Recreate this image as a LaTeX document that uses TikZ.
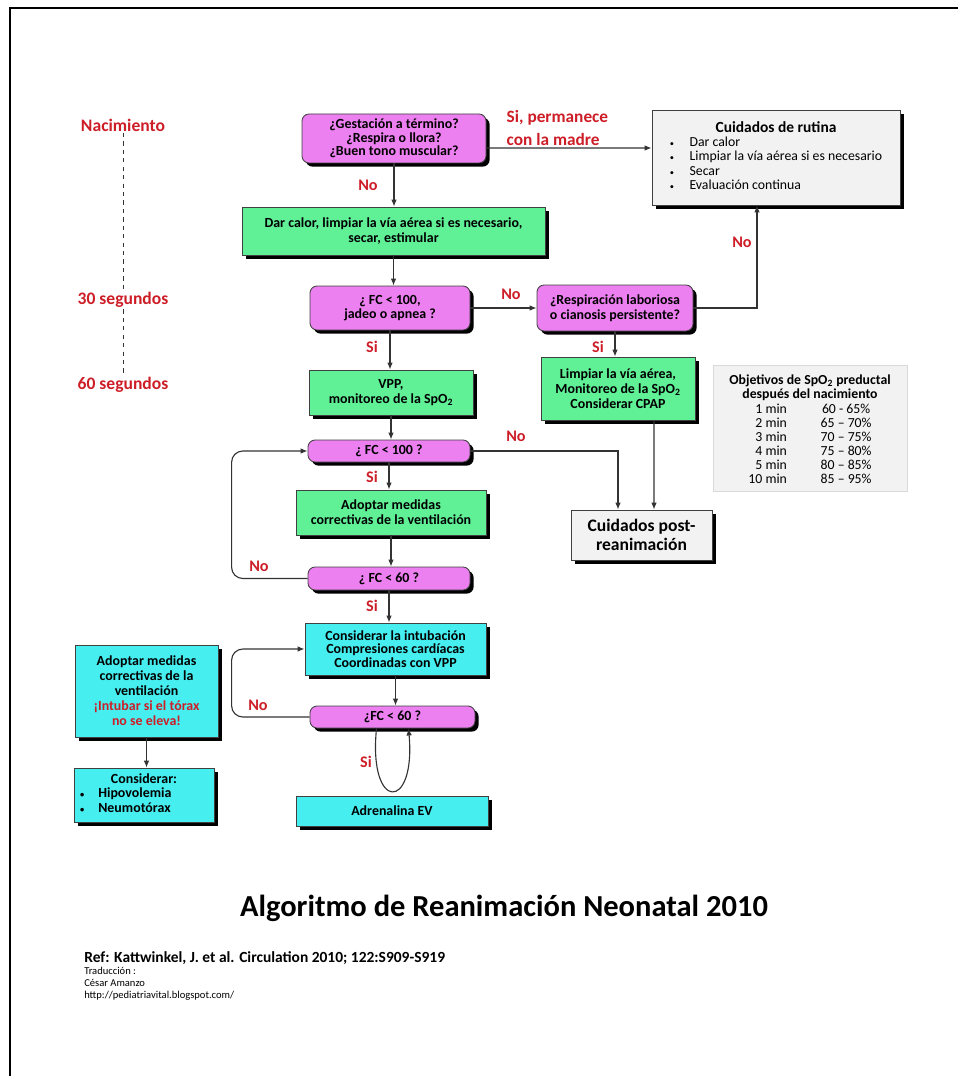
\documentclass[tikz,border=0pt]{standalone}
\usepackage{fontspec}
\setmainfont{Carlito}
\usetikzlibrary{positioning,calc,arrows.meta,shadows}
\definecolor{QPink}{RGB}{236,128,240}
\definecolor{ActGreen}{RGB}{96,240,150}
\definecolor{IntCyan}{RGB}{70,238,240}
\definecolor{CareGray}{RGB}{242,242,242}
\definecolor{LblRed}{RGB}{205,30,40}
\newcommand{\dotitem}{{\fontsize{6}{6}\selectfont\textbullet}}
\tikzset{
  sz/.style 2 args={minimum width=#1*0.025cm,minimum height=#2*0.025cm},
  box/.style={draw=black!75,line width=0.6pt,inner sep=0pt,align=center,
    font=\bfseries\fontsize{9.9}{10.5}\selectfont,
    drop shadow={shadow xshift=2.6pt,shadow yshift=-2.6pt,fill=black,opacity=1}},
  ask/.style={box,fill=QPink,rounded corners=5pt},
  act/.style={box,fill=ActGreen},
  adv/.style={box,fill=IntCyan},
  care/.style={box,fill=CareGray},
  flow/.style={draw=black!80,line width=0.8pt,-{Latex[length=5pt,width=4pt]}},
  lbl/.style={text=LblRed,font=\bfseries\fontsize{11.5}{12}\selectfont,inner sep=1pt},
  tick/.style={draw=black!80,dashed,line width=0.7pt},
}

\begin{document}
\begin{tikzpicture}[x=0.025cm,y=-0.025cm]
\useasboundingbox (0,0) rectangle (958,1076);
\draw[line width=1.5pt] (10,1076) -- (10,8) -- (958,8);

\node[lbl,font=\bfseries\fontsize{12.5}{13}\selectfont] (birth) at (123,125) {Nacimiento};
\node[lbl,font=\bfseries\fontsize{12.5}{13}\selectfont] (s30) at (123,300) {30 segundos};
\node[lbl,font=\bfseries\fontsize{12.5}{13}\selectfont] (s60) at (123,385) {60 segundos};
\draw[tick] (birth) -- (s30);
\draw[tick] (s30) -- (s60);

\node[ask,sz={184}{49},font=\bfseries\fontsize{9.9}{9.5}\selectfont] (q1) at (394,138.5) {¿Gestación a término?\\¿Respira o llora?\\¿Buen tono muscular?};
\node[act,sz={303}{48}] (g1) at (393.5,231) {Dar calor, limpiar la vía aérea si es necesario,\\secar, estimular};
\node[ask,sz={160}{44}] (q2) at (390,308) {¿ FC < 100,\\jadeo o apnea ?};
\node[ask,sz={156}{46}] (q3) at (615,308) {¿Respiración laboriosa\\o cianosis persistente?};
\node[care,sz={248}{95},font=\fontsize{9.8}{10.2}\selectfont] (rut) at (776,157.5) {%
  \begin{tabular}{@{}l@{\hspace{11pt}}l@{}}
  \multicolumn{2}{c}{\bfseries\fontsize{11}{12}\selectfont Cuidados de rutina}\\
  \dotitem & Dar calor\\
  \dotitem & Limpiar la vía aérea si es necesario\\
  \dotitem & Secar\\
  \dotitem & Evaluación continua
  \end{tabular}};
\node[act,sz={164}{45}] (vpp) at (391,392.5) {VPP,\\monitoreo de la SpO\textsubscript{2}};
\node[act,sz={154}{63}] (lim) at (618,388.5) {Limpiar la vía aérea,\\Monitoreo de la SpO\textsubscript{2}\\Considerar CPAP};
\node[draw=black!15,fill=CareGray,sz={194}{126},align=center,inner sep=0pt,
  font=\fontsize{9.8}{10}\selectfont] (obj) at (810,428) {%
  \mbox{}\\[1.4pt]
  {\bfseries Objetivos de SpO\textsubscript{2} preductal}\\
  {\bfseries después del nacimiento}\\[1pt]
  \begin{tabular}{@{}r@{\hspace{24pt}}c@{}}
  1 min & 60 - 65\%\\
  2 min & 65 – 70\%\\
  3 min & 70 – 75\%\\
  4 min & 75 – 80\%\\
  5 min & 80 – 85\%\\
  10 min & 85 – 95\%
  \end{tabular}};
\node[ask,sz={162}{22}] (q4) at (389,451) {¿ FC < 100 ?};
\node[act,sz={190}{45}] (ado) at (391,512.5) {Adoptar medidas\\correctivas de la ventilación};
\node[ask,sz={162}{23}] (q5) at (389,578.5) {¿ FC < 60 ?};
\node[care,sz={141}{50},font=\bfseries\fontsize{12.5}{13.5}\selectfont] (post) at (641.5,535) {Cuidados post-\\reanimación};
\node[adv,sz={181}{52},font=\bfseries\fontsize{9.9}{9.8}\selectfont] (int) at (395.5,649) {Considerar la intubación\\Compresiones cardíacas\\Coordinadas con VPP};
\node[ask,sz={165}{22}] (q6) at (392.5,717) {¿FC < 60 ?};
\node[adv,sz={192}{30}] (adr) at (392,811) {Adrenalina EV};
\node[adv,sz={143}{92},font=\bfseries\fontsize{9.9}{10.7}\selectfont] (la) at (146.5,691) {Adoptar medidas\\correctivas de la\\ventilación\\\textcolor{LblRed}{¡Intubar si el tórax}\\\textcolor{LblRed}{no se eleva!}};
\node[adv,sz={140}{54}] (lb) at (144,795) {%
  \begin{tabular}{@{}l@{\hspace{10pt}}l@{\hspace{26pt}}}
  \multicolumn{2}{c}{\bfseries Considerar:}\\
  \dotitem & \bfseries Hipovolemia\\
  \dotitem & \bfseries Neumotórax
  \end{tabular}};

\draw[flow] (q1.south) -- (q1.south |- g1.north);
\draw[flow] ($(q1.east)+(0,9.5)$) -- ($(rut.west)+(0,-9.5)$);
\draw[flow] (g1.south) -- (g1.south |- q2.north);
\draw[flow] (q2.east) -- (q3.west);
\draw[flow] (q3.east) -| ($(rut.south)+(-19,0)$);
\draw[flow] (q2.south) -- (q2.south |- vpp.north);
\draw[flow] (q3.south) -- (q3.south |- lim.north);
\draw[flow] ($(lim.south)+(36,0)$) -- ($(post.north)+(12.5,0)$);
\draw[flow] (vpp.south) -- (vpp.south |- q4.north);
\draw[flow] (q4.east) -| ($(post.north)+(-23.5,0)$);
\draw[flow] (q4.south) -- (q4.south |- ado.north);
\draw[flow] (ado.south) -- (ado.south |- q5.north);
\draw[flow,rounded corners=8pt] (q5.west) -- ++(-76,0) |- (q4.west);
\draw[flow] (q5.south) -- (q5.south |- int.north);
\draw[flow] (int.south) -- (int.south |- q6.north);
\draw[flow,rounded corners=8pt] (q6.west) -- ++(-78,0) |- (int.west);
\draw[flow] ($(q6.south)+(-16,0)$) .. controls (368,812) and (416,812) .. ($(q6.south)+(16,0)$);
\draw[flow] (la.south) -- (la.south |- lb.north);

\node[lbl,align=left,anchor=west,font=\bfseries\fontsize{12.3}{16.5}\selectfont] (stay) at (505,128) {Si, permanece\\con la madre};
\node[lbl] (noq1) at (368,185) {No};
\node[lbl] (noq2) at (511,294) {No};
\node[lbl] (noq3) at (742,242) {No};
\node[lbl] (siq2) at (372,347) {Si};
\node[lbl] (siq3) at (598,347) {Si};
\node[lbl] (noq4) at (516,436) {No};
\node[lbl] (siq4) at (372,477) {Si};
\node[lbl] (noq5) at (259,566) {No};
\node[lbl] (siq5) at (372,606) {Si};
\node[lbl] (noq6) at (258,705) {No};
\node[lbl] (siq6) at (366,762) {Si};

\node[font=\bfseries\fontsize{21.7}{24}\selectfont] (title) at (504,908) {Algoritmo de Reanimación Neonatal 2010};
\node[anchor=west,inner sep=0pt,font=\bfseries\fontsize{11}{12}\selectfont] (ref) at (84,958) {Ref: Kattwinkel, J. et al. Circulation 2010; 122:S909-S919};
\node[anchor=north west,inner sep=0pt,align=left,font=\fontsize{7.5}{8.5}\selectfont] (credit) at (84,967) {Traducción :\\César Amanzo\\http://pediatriavital.blogspot.com/};
\end{tikzpicture}
\end{document}
